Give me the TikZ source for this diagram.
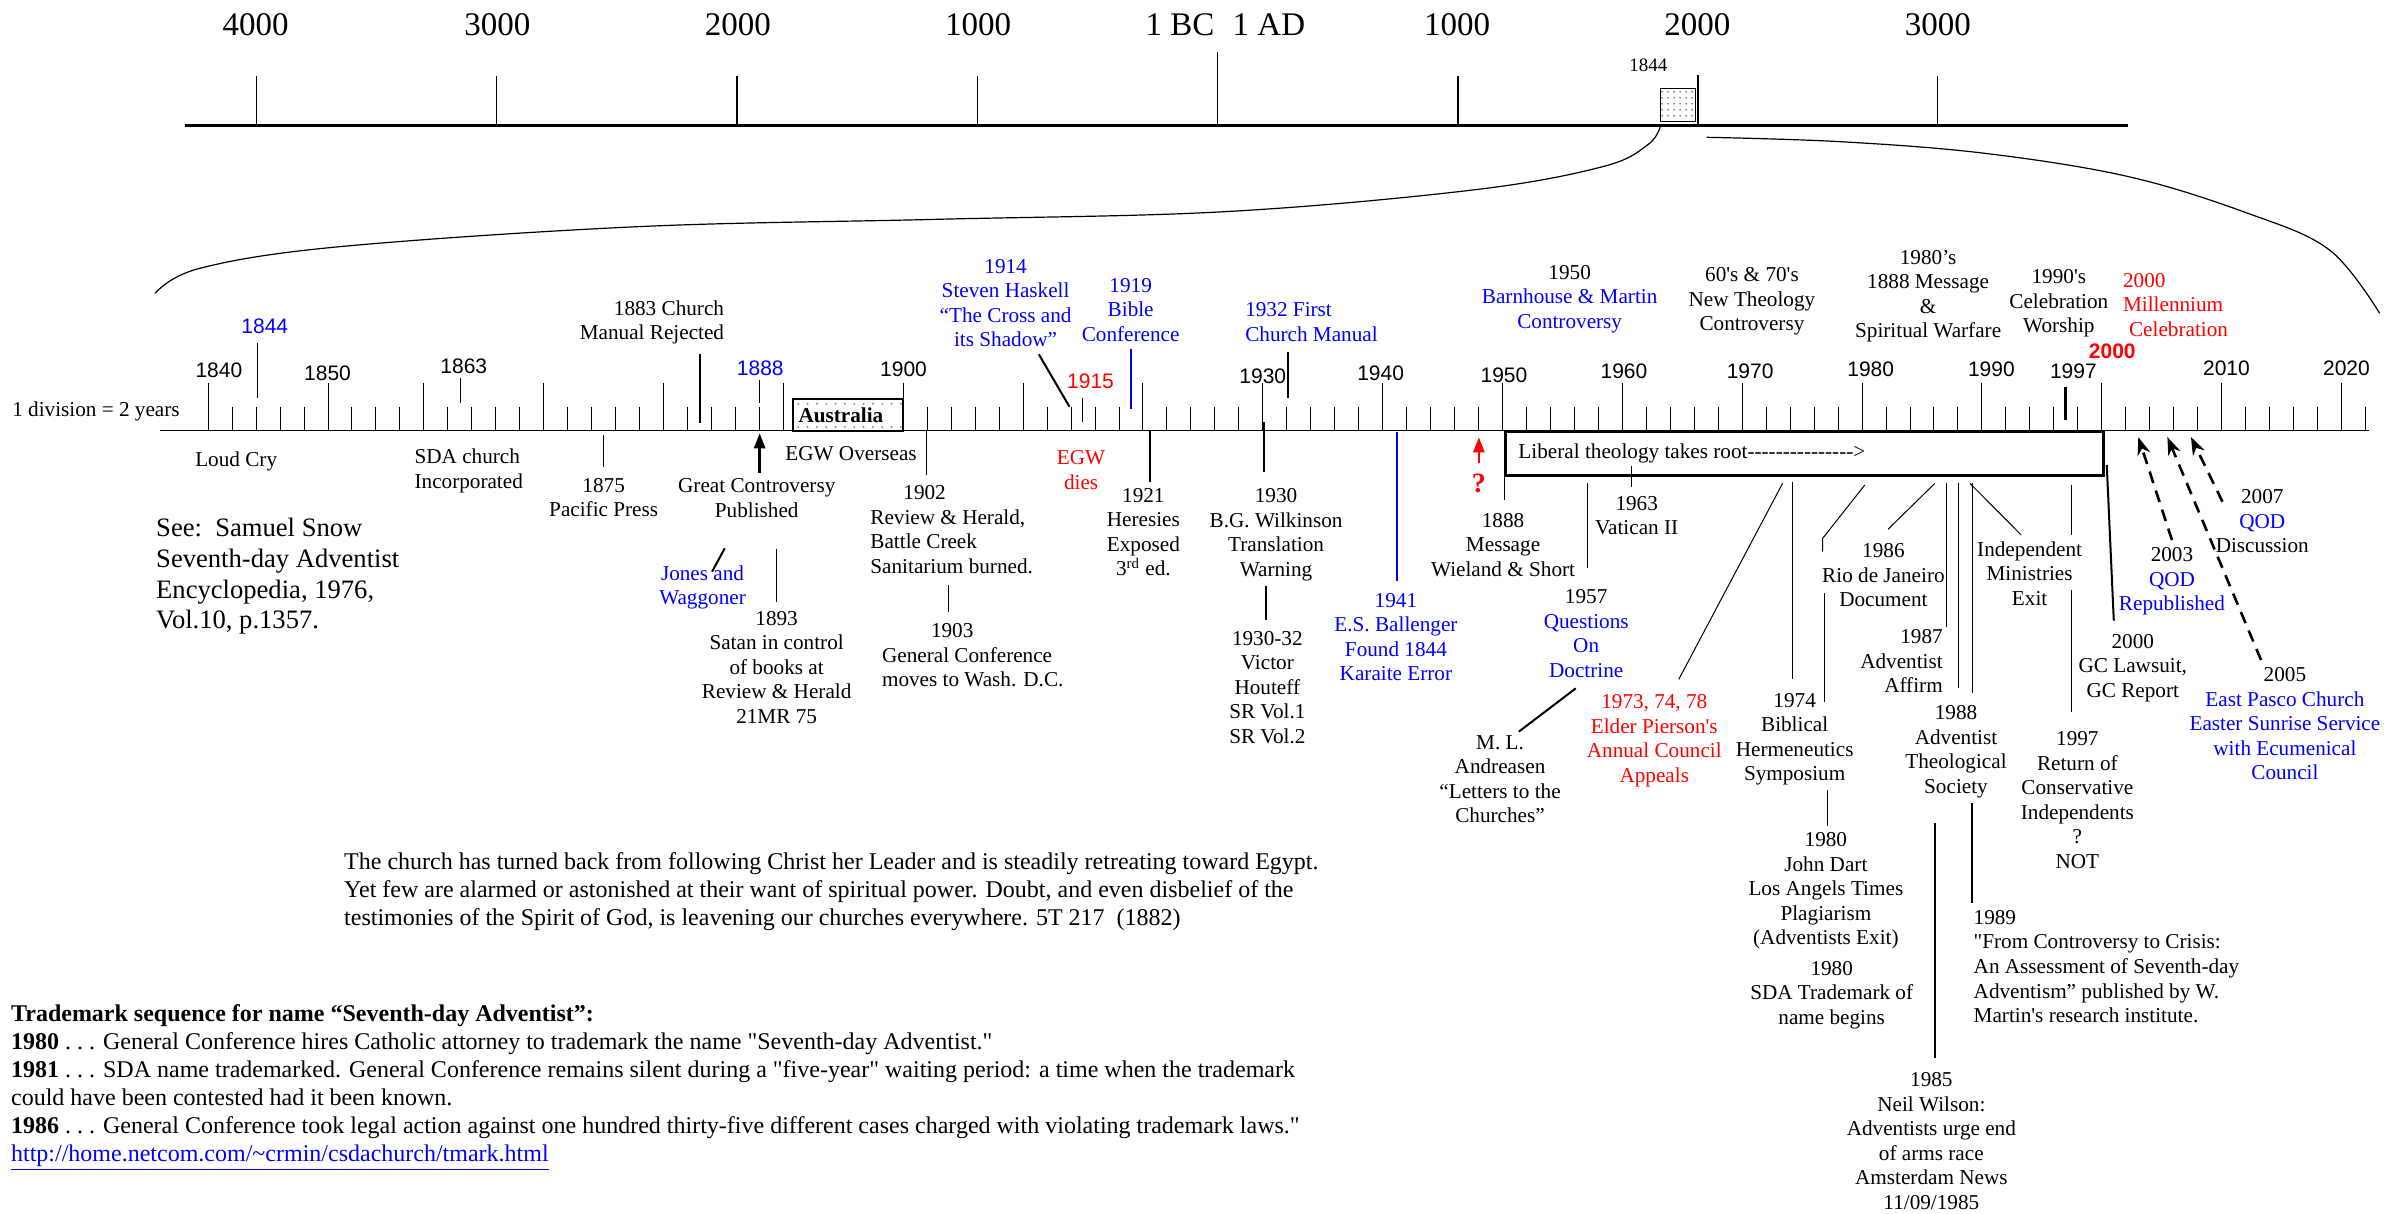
\documentclass[tikz,border=0pt]{standalone}
\usepackage{fontspec}
\setmainfont{Liberation Serif}
\newfontfamily\arialf{Liberation Sans}
\usetikzlibrary{arrows.meta,patterns}
\definecolor{myblue}{RGB}{0,0,255}
\definecolor{myred}{RGB}{255,0,0}
\newcommand\lbf{\fontsize{10.6}{12.25}\selectfont}
\newcommand\yrf{\arialf\fontsize{10.5}{12}\selectfont}
\newcommand\topf{\fontsize{16.5}{19}\selectfont}
\newcommand\quotef{\fontsize{12}{14}\selectfont}
\newcommand\sq{\XeTeXglyph\XeTeXcharglyph"27\relax}
\newcommand\dq{\XeTeXglyph\XeTeXcharglyph"22\relax}
\newcommand\hy{-\kern0pt}
\newcommand\dashes{\hy\hy\hy\hy\hy\hy\hy\hy\hy\hy\hy\hy\hy\hy\hy}
\newcommand\edots{.\ .\ .}
\begin{document}
\begin{tikzpicture}[x=0.7653pt,y=-0.7653pt,
  lbl/.style={font=\lbf,align=center,inner sep=0pt},
  yr/.style={font=\yrf,inner sep=0pt},
  toplbl/.style={font=\topf,inner sep=0pt},
  tline/.style={line width=0.5pt},
  bline/.style={line width=1pt},
  dasharrow/.style={line width=1.3pt,dash pattern=on 6pt off 4pt,-{Stealth[length=9pt,width=6.5pt]}},
  solidarrow/.style={line width=1.3pt,-{Triangle[length=7.5pt,width=5.5pt]}}]
\useasboundingbox (0,0) rectangle (1568,793);
\fill[white] (0,0) rectangle (1568,793);

% ---------- top scale ----------
\draw[line width=1.6pt] (121,82) -- (1390,82);
\foreach \xx in {167.5,324.5,481.5,638.5,952.5,1266}{\draw[line width=0.7pt] (\xx,49.7) -- (\xx,82);}
\draw[line width=0.7pt] (795.5,34.2) -- (795.5,82);
\draw[line width=0.9pt] (1109.2,49) -- (1109.2,82);
\node[toplbl] (t4000) at (167,16) {4000};
\node[toplbl] (t3000) at (325,16) {3000};
\node[toplbl] (t2000) at (482,16) {2000};
\node[toplbl] (t1000) at (639,16) {1000};
\node[toplbl] (tbc) at (771,16) {1 BC};
\node[toplbl] (tad) at (829,16) {1 AD};
\node[toplbl] (t1000b) at (952,16) {1000};
\node[toplbl] (t2000b) at (1109,16) {2000};
\node[toplbl] (t3000b) at (1266,16) {3000};
\node[draw,line width=0.5pt,pattern=dots,pattern color=gray,minimum width=17.6pt,minimum height=16.7pt,inner sep=0pt] (b1844) at (1096.5,68.6) {};
\node[font=\fontsize{9.5}{10}\selectfont,inner sep=0pt] (l1844top) at (1077,42.5) {1844};
\draw[line width=0.6pt] plot[smooth,tension=0.6] coordinates {(1084.6,83) (1076.4,94.7) (1047,108.9) (962.4,124.1) (800,138.3) (611.5,143.3) (416.5,148.1) (221.5,161.2) (130.5,175.3) (101.3,191.6)};
\draw[line width=0.6pt] plot[smooth,tension=0.6] coordinates {(1115,89.7) (1203,92.6) (1297,100.2) (1390.6,115.4) (1468.7,139.4) (1521.9,163.3) (1554.7,204.7)};

% ---------- lower axis ----------
\draw[line width=0.6pt] (104.5,281.5) -- (1548,281.5);
\foreach \i in {0,...,90}{
  \pgfmathtruncatemacro\lng{(\i==0)||(\i==5)||((\i>8)&&(mod(\i+1,5)==0))}
  \ifnum\lng=1
    \draw[tline] (136+\i*15.66,250.5) -- (136+\i*15.66,281.5);
  \else
    \draw[tline] (136+\i*15.66,265.7) -- (136+\i*15.66,281.5);
  \fi
}
\node[draw,line width=0.9pt,fill=white,minimum width=54.7pt,minimum height=15.8pt,inner sep=0pt] (aus) at (554.05,271.25) {};
\foreach \k in {0,...,11}{\fill[gray] (521.5+\k*6.1,263.8) circle (0.5pt); \fill[gray] (521.5+\k*6.1,279) circle (0.5pt);}
\node[font=\lbf\bfseries,inner sep=0pt] (aust) at (549.4,271.3) {Australia};

% axis year labels
\node[lbl] (div) at (62.7,268.5) {1 division = 2 years};
\node[yr] (y1840) at (143,242) {1840};
\node[yr,text=myblue] (y1844) at (173,213) {1844};
\node[yr] (y1850) at (214,244) {1850};
\node[yr] (y1863) at (303,239.6) {1863};
\node[yr,text=myblue] (y1888) at (496.7,240.6) {1888};
\node[yr] (y1900) at (590.3,241.1) {1900};
\node[yr,text=myred] (y1915) at (712.5,249.4) {1915};
\node[yr] (y1930) at (825,245.7) {1930};
\node[yr] (y1940) at (902,243.9) {1940};
\node[yr] (y1950) at (982.6,245) {1950};
\node[yr] (y1960) at (1061,242.8) {1960};
\node[yr] (y1970) at (1143.4,242.8) {1970};
\node[yr] (y1980) at (1222.2,241.1) {1980};
\node[yr] (y1990) at (1301,241.1) {1990};
\node[yr] (y1997) at (1354.6,242.8) {1997};
\node[yr,text=myred,font=\yrf\bfseries] (y2000) at (1380,229.8) {2000};
\node[yr] (y2010) at (1454.6,240.7) {2010};
\node[yr] (y2020) at (1533,240.7) {2020};

% markers above axis
\draw[tline] (168,224.3) -- (168,259.8);
\draw[tline] (301,247) -- (301,263);
\draw[bline] (457,231.5) -- (457,276.6);
\draw[tline] (496.3,248.3) -- (496.3,263.5);
\draw[bline] (678.7,231.5) -- (698.7,265.7);
\draw[tline] (707,260.2) -- (707,276);
\draw[bline,myblue] (738.7,228) -- (738.7,267.4);
\draw[bline] (841.7,229.8) -- (841.7,259.8);
\draw[line width=1.5pt] (1349.7,252.6) -- (1349.7,274.4);

% labels above axis
\node[lbl,anchor=east,align=right] (l1883) at (473.3,210.5) {1883 Church\\Manual Rejected};
\node[lbl,text=myblue] (l1914) at (657,198) {1914\\Steven Haskell\\“The Cross and\\its Shadow”};
\node[lbl,text=myblue] (l1919) at (738.7,202.5) {1919\\Bible\\Conference};
\node[lbl,text=myblue,anchor=west,align=left] (l1932) at (813.3,210.5) {1932 First\\Church Manual};
\node[lbl,text=myblue] (l1950) at (1025.5,195.4) {\textcolor{black}{1950}\\Barnhouse \& Martin\\Controversy};
\node[lbl] (l6070) at (1144.6,196.9) {60\sq s \& 70\sq s\\New Theology\\Controversy};
\node[lbl] (l1980s) at (1259.7,193.6) {1980’s\\1888 Message\\\&\\Spiritual Warfare};
\node[lbl] (l1990s) at (1345.1,198.2) {1990\sq s\\Celebration\\Worship};
\node[lbl,text=myred,anchor=west,align=left] (l2000m) at (1386.8,199) {2000\\Millennium\\\hspace*{3pt}Celebration};

% lines below axis
\draw[tline] (394.4,284.2) -- (394.4,304.9);
\draw[solidarrow] (496.3,309.3) -- (496.3,283.1);
\draw[tline] (605.3,281.6) -- (605.3,310.3);
\draw[tline] (619.7,382.2) -- (619.7,399.6);
\draw[bline] (473.5,358.2) -- (465.2,373.5);
\draw[tline] (507.4,358.9) -- (507.4,393.1);
\draw[bline] (751.4,281) -- (751.4,315.1);
\draw[bline] (826,276) -- (826,308.2);
\draw[bline] (827,383) -- (827,405);
\draw[bline,myblue] (912.6,282) -- (912.6,379.6);
\draw[solidarrow,myred] (966.2,302.7) -- (966.2,285.7);
\node[draw,line width=1.3pt,minimum width=299pt,minimum height=22pt,inner sep=0pt,anchor=north west] (lib) at (982.6,281) {};
\draw[tline] (982.6,310.3) -- (982.6,326.7);
\draw[tline] (1066.2,304.5) -- (1066.2,318);
\draw[tline] (1037.2,315.8) -- (1037.2,371.3);
\draw[bline] (1029.5,449.7) -- (992.3,478);
\draw[tline] (1096.8,443.8) -- (1164.6,315.8);
\draw[tline] (1171.1,314.7) -- (1171.1,443.8);
\draw[tline] (1218.3,316.9) -- (1190.8,351.7) -- (1190.8,360.4);
\draw[tline] (1192.2,387.6) -- (1192.2,458.4);
\draw[tline] (1193.8,516.1) -- (1193.8,539.7);
\draw[tline] (1264.1,315.8) -- (1233.5,345.8);
\draw[tline] (1272,315.8) -- (1272,409.4);
\draw[tline] (1279.3,315.8) -- (1279.3,449.7);
\draw[tline] (1288.4,315.8) -- (1288.4,452.9);
\draw[bline] (1288.6,524.4) -- (1288.6,590.2);
\draw[bline] (1264.4,537.9) -- (1264.4,691.5);
\draw[tline] (1287,315.8) -- (1320.5,349.5);
\draw[tline] (1353.5,316.9) -- (1353.5,349.5);
\draw[tline] (1353.5,385.5) -- (1353.5,465);
\draw[bline] (1376.4,303.8) -- (1381,405.5);
\draw[dasharrow] (1419,352.8) -- (1397,285.5);
\draw[dasharrow] (1477.2,431.2) -- (1416,285.5);
\draw[dasharrow] (1452,327.8) -- (1431.4,285.5);

% labels below axis
\node[lbl] (loud) at (154.3,301.6) {Loud Cry};
\node[lbl,anchor=west,align=left] (sda) at (270.6,307.6) {SDA church\\Incorporated};
\node[lbl] (l1875) at (394.4,325) {1875\\Pacific Press};
\node[lbl] (gcp) at (494.4,325.3) {Great Controversy\\Published};
\node[lbl] (egwo) at (556,296.6) {EGW Overseas};
\node[lbl,anchor=west,align=left] (l1902) at (568.4,346) {\hspace*{16.5pt}1902\\Review \& Herald,\\Battle Creek\\Sanitarium burned.};
\node[lbl,anchor=west,align=left] (l1903) at (576,428) {\hspace*{24.5pt}1903\\General Conference\\moves to Wash. D.C.};
\node[lbl,text=myblue] (jones) at (459,383.9) {Jones and\\Waggoner};
\node[lbl] (l1893) at (507.4,435.9) {1893\\Satan in control\\of books at\\Review \& Herald\\21MR 75};
\node[font=\fontsize{13.3}{15.4}\selectfont,align=left,anchor=west,inner sep=0pt] (see) at (101.8,376.5) {See:\ \ Samuel Snow\\Seventh-day Adventist\\Encyclopedia, 1976,\\Vol.10, p.1357.};
\node[lbl,text=myred] (egwd) at (706.3,307) {EGW\\dies};
\node[lbl] (l1921) at (747,347.8) {1921\\Heresies\\Exposed\\3\textsuperscript{rd} ed.};
\node[lbl] (l1930) at (833.7,349.3) {1930\\B.G. Wilkinson\\Translation\\Warning};
\node[lbl] (l193032) at (828,449) {1930-32\\Victor\\Houteff\\SR Vol.1\\SR Vol.2};
\node[lbl,text=myblue] (l1941) at (912,416.2) {1941\\E.S. Ballenger\\Found 1844\\Karaite Error};
\node[font=\fontsize{14}{14}\selectfont\bfseries,text=myred,inner sep=0pt] (qm) at (966.2,315.8) {?};
\node[lbl,anchor=west] (libt) at (991.8,296.2) {Liberal theology takes root\dashes>};
\node[lbl] (l1888m) at (982,355.9) {1888\\Message\\Wieland \& Short};
\node[lbl] (l1963) at (1069.3,337) {1963\\Vatican II};
\node[lbl,text=myblue] (l1957) at (1036.3,414) {\textcolor{black}{1957}\\Questions\\On\\Doctrine};
\node[lbl] (andr) at (980,509.2) {M. L.\\Andreasen\\“Letters to the\\Churches”};
\node[lbl,text=myred] (l1973) at (1080.8,483.8) {1973, 74, 78\\Elder Pierson\sq s\\Annual Council\\Appeals};
\node[lbl] (l1974) at (1172.5,482.9) {1974\\Biblical\\Hermeneutics\\Symposium};
\node[lbl] (l1986) at (1230.5,375.7) {1986\\Rio de Janeiro\\Document};
\node[lbl] (l1980a) at (1192.9,582) {1980\\John Dart\\Los Angels Times\\Plagiarism\\(Adventists Exit)};
\node[lbl] (l1980b) at (1196.7,649.9) {1980\\SDA Trademark of\\name begins};
\node[lbl,anchor=east,align=right] (l1987) at (1269.5,432) {1987\\Adventist\\Affirm};
\node[lbl] (l1988) at (1277.9,491) {1988\\Adventist\\Theological\\Society};
\node[lbl] (l1985) at (1261.8,745.6) {1985\\Neil Wilson:\\Adventists urge end\\of arms race\\Amsterdam News\\11/09/1985};
\node[lbl,anchor=west,align=left] (l1989) at (1289.2,631.5) {1989\\\dq From Controversy to Crisis:\\An Assessment of Seventh-day\\Adventism” published by W.\\Martin\sq s research institute.};
\node[lbl] (indep) at (1326,374.6) {Independent\\Ministries\\Exit};
\node[lbl] (l1997) at (1357.2,522.7) {1997\\Return of\\Conservative\\Independents\\?\\NOT};
\node[lbl] (l2000gc) at (1393.4,436.3) {2000\\GC Lawsuit,\\GC Report};
\node[lbl,text=myblue] (l2003) at (1419,379.9) {\textcolor{black}{2003}\\QOD\\Republished};
\node[lbl] (l2007) at (1478,340.6) {2007\\\textcolor{myblue}{QOD}\\Discussion};
\node[lbl,text=myblue] (l2005) at (1492.8,473) {\textcolor{black}{2005}\\East Pasco Church\\Easter Sunrise Service\\with Ecumenical\\Council};

% bottom texts
\node[font=\quotef,align=left,anchor=west,inner sep=0pt] (quote) at (224.6,582.4) {The church has turned back from following Christ her Leader and is steadily retreating toward Egypt.\\Yet few are alarmed or astonished at their want of spiritual power. Doubt, and even disbelief of the\\testimonies of the Spirit of God, is leavening our churches everywhere. 5T 217\ \ (1882)};
\node[font=\quotef,align=left,anchor=west,inner sep=0pt] (tm) at (7,710.3) {\textbf{Trademark sequence for name “Seventh-day Adventist”:}\\\textbf{1980} \edots{} General Conference hires Catholic attorney to trademark the name \dq Seventh-day Adventist.\dq\\\textbf{1981} \edots{} SDA name trademarked. General Conference remains silent during a \dq five-year\dq{} waiting period: a time when the trademark\\could have been contested had it been known.\\\textbf{1986} \edots{} General Conference took legal action against one hundred thirty-five different cases charged with violating trademark laws.\dq\\\textcolor{myblue}{\underline{http://home.netcom.com/\textasciitilde crmin/csdachurch/tmark.html}}};
\end{tikzpicture}
\end{document}
